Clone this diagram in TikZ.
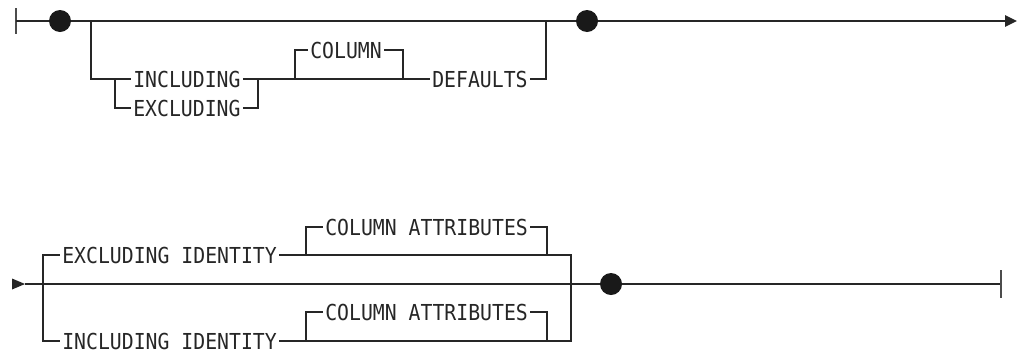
\documentclass[tikz,border=0pt]{standalone}
\usepackage{fontspec}
\newfontfamily\railfont[FakeStretch=0.9]{DejaVu Sans Mono}
\usetikzlibrary{arrows.meta, positioning, calc}

\begin{document}
\begin{tikzpicture}[
    x=0.75pt, y=-0.75pt,
    rail/.style={line width=1.2pt, draw=black!85},
    keyword/.style={font=\railfont\fontsize{16.5}{18}\selectfont, inner xsep=1.5pt, inner ysep=0pt, text height=12pt, text depth=0pt, anchor=west, text=black!85},
    junction/.style={circle, fill=black!90, inner sep=0pt, minimum size=16.5pt},
    endarrow/.style={-{Triangle[length=9pt, width=8.5pt]}},
    endbar/.style={line width=1.2pt, draw=black!70}
]
    \useasboundingbox (0,0) rectangle (1019,351);

    % Row heights (pixels)
    \def\ya{21}
    \def\yb{79}
    \def\yc{108}
    \def\yd{50}
    \def\ye{284}
    \def\yf{255}
    \def\yg{341}
    \def\yh{227}
    \def\yi{312}

    % Top diagram: nodes
    \node[junction] (dotA) at (60,\ya) {};
    \node[junction] (dotB) at (587,\ya) {};
    \node[keyword] (incl) at (131,\yb) {INCLUDING};
    \node[keyword] (excl) at (131,\yc) {EXCLUDING};
    \node[keyword] (col) at (308,\yd) {COLUMN};
    \node[keyword] (defs) at (430,\yb) {DEFAULTS};

    % Top diagram: junction points
    \coordinate (startA) at (16,\ya);
    \coordinate (brA) at (91,\ya);
    \coordinate (joinA) at (546,\ya);
    \coordinate (arrowA) at (1017,\ya);
    \coordinate (splitA) at (115,\yb);
    \coordinate (mergeA) at (258,\yb);
    \coordinate (colsplit) at (295,\yb);
    \coordinate (colmerge) at (403,\yb);

    % Top diagram: rails
    \draw[endbar] ($(startA)+(0,-13)$) -- ($(startA)+(0,13)$);
    \draw[rail] (startA) -- (dotA);
    \draw[rail] (dotA) -- (dotB);
    \draw[rail, endarrow] (dotB) -- (arrowA);
    \draw[rail] (brA) |- (incl.west);
    \draw[rail] (splitA) |- (excl.west);
    \draw[rail] (incl.east) -- (defs.west);
    \draw[rail] (excl.east) -| (mergeA);
    \draw[rail] (colsplit) |- (col.west);
    \draw[rail] (col.east) -| (colmerge);
    \draw[rail] (defs.east) -| (joinA);

    % Bottom diagram: nodes
    \node[junction] (dotC) at (611,\ye) {};
    \node[keyword] (exid) at (60,\yf) {EXCLUDING IDENTITY};
    \node[keyword] (inid) at (60,\yg) {INCLUDING IDENTITY};
    \node[keyword] (attrA) at (323,\yh) {COLUMN ATTRIBUTES};
    \node[keyword] (attrB) at (323,\yi) {COLUMN ATTRIBUTES};

    % Bottom diagram: junction points
    \coordinate (startB) at (25,\ye);
    \coordinate (splitB) at (43,\ye);
    \coordinate (mergeB) at (571,\ye);
    \coordinate (endB) at (1001,\ye);
    \coordinate (attrsplitA) at (306,\yf);
    \coordinate (attrmergeA) at (547,\yf);
    \coordinate (attrsplitB) at (306,\yg);
    \coordinate (attrmergeB) at (547,\yg);

    % Bottom diagram: rails
    \fill[black!85] (startB) -- ++(-13,-5.5) -- ++(0,11) -- cycle;
    \draw[rail] (startB) -- (dotC);
    \draw[rail] (dotC) -- (endB);
    \draw[endbar] ($(endB)+(0,-14)$) -- ($(endB)+(0,14)$);
    \draw[rail] (splitB) |- (exid.west);
    \draw[rail] (splitB) |- (inid.west);
    \draw[rail] (exid.east) -| (mergeB);
    \draw[rail] (inid.east) -| (mergeB);
    \draw[rail] (attrsplitA) |- (attrA.west);
    \draw[rail] (attrA.east) -| (attrmergeA);
    \draw[rail] (attrsplitB) |- (attrB.west);
    \draw[rail] (attrB.east) -| (attrmergeB);

\end{tikzpicture}
\end{document}
